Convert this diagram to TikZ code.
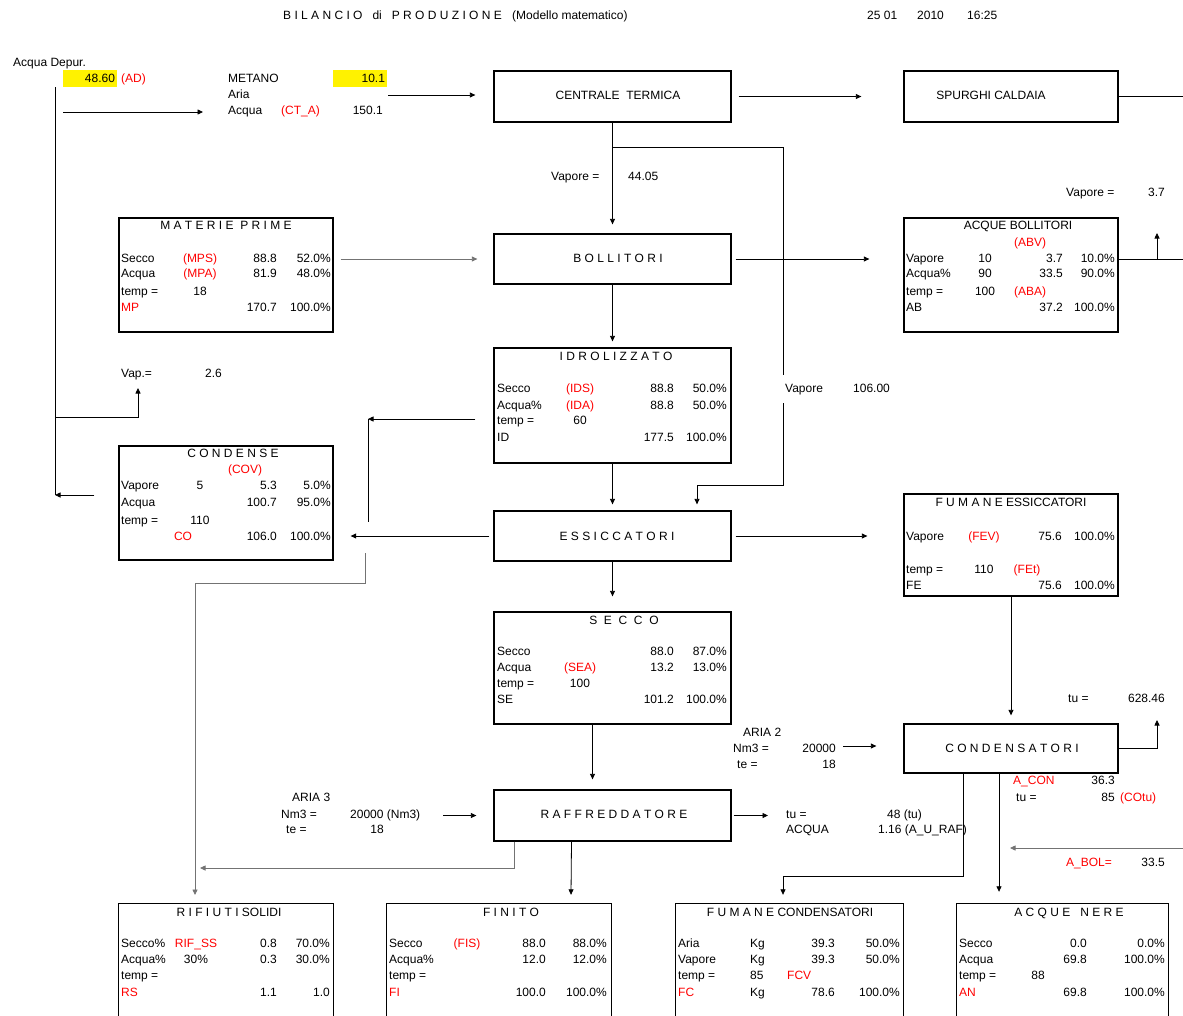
\documentclass[tikz,border=0pt]{standalone}
\usepackage{fontspec}
\setmainfont{Liberation Sans}
\usetikzlibrary{arrows.meta}
\newcommand{\rtxt}[1]{\textcolor{red}{#1}}
\tikzset{
  blk/.style={draw, line width=1.3pt, inner sep=0pt},
  txl/.style={anchor=mid west, inner sep=0pt, yshift=-1.5pt},
  txr/.style={anchor=mid east, inner sep=0pt, yshift=-1.5pt},
  txc/.style={anchor=mid, inner sep=0pt, yshift=-1.5pt},
  ln/.style={line width=0.8pt},
  lng/.style={line width=0.8pt, draw=black!55},
  arr/.style={-{Triangle[length=5.5pt,width=5pt]}},
  hl/.style={fill=yellow, inner xsep=2pt, inner ysep=0pt, minimum height=17pt, text width=50pt, align=right}
}
\begin{document}
\begin{tikzpicture}[x=1pt, y=-1pt, font=\fontsize{12}{14}\selectfont]
\useasboundingbox (0,0) rectangle (1183,1015);
% header
\node[txl] (tit) at (283,15) {B I L A N C I O\ \ \ di\ \ \ P R O D U Z I O N E};
\node[txl] (tit2) at (512,15) {(Modello matematico)};
\node[txl] (dt1) at (867,15) {25 01};
\node[txl] (dt2) at (917,15) {2010};
\node[txl] (dt3) at (967,15) {16:25};

% process blocks
\node[blk, minimum width=237pt, minimum height=51pt] (ct) at (612.5,96.5) {};
\node[txc] (ct-t) at (618,95) {CENTRALE\ \ TERMICA};
\node[blk, minimum width=214pt, minimum height=51pt] (sc) at (1011,96.5) {};
\node[txc] (sc-t) at (991,95) {SPURGHI CALDAIA};
\node[blk, minimum width=237pt, minimum height=50pt] (boll) at (612.5,259) {};
\node[txc] (boll-t) at (618,258) {B O L L I T O R I};
\node[blk, minimum width=237pt, minimum height=50pt] (ess) at (612.5,536) {};
\node[txc] (ess-t) at (617,536) {E S S I C C A T O R I};
\node[blk, minimum width=237pt, minimum height=51pt] (raf) at (612.5,815.5) {};
\node[txc] (raf-t) at (614,814) {R A F F R E D D A T O R E};
\node[blk, minimum width=214pt, minimum height=49pt] (cnd) at (1011,748.5) {};
\node[txc] (cnd-t) at (1012,748) {C O N D E N S A T O R I};

% table blocks
\node[blk, minimum width=214pt, minimum height=114pt] (mp) at (226,275) {};
\node[blk, minimum width=214pt, minimum height=114pt] (ab) at (1011,275) {};
\node[blk, minimum width=237pt, minimum height=115pt] (idr) at (612.5,405.5) {};
\node[blk, minimum width=214pt, minimum height=114pt] (cond) at (226,503) {};
\node[blk, minimum width=214pt, minimum height=102pt] (fe) at (1011,545) {};
\node[blk, minimum width=237pt, minimum height=112pt] (sec) at (612.5,668) {};
\node[inner sep=0pt, minimum width=214pt, minimum height=116pt] (rs) at (226,962) {};
\node[inner sep=0pt, minimum width=224pt, minimum height=116pt] (fin) at (499,962) {};
\node[inner sep=0pt, minimum width=227pt, minimum height=116pt] (fc) at (789.5,962) {};
\node[inner sep=0pt, minimum width=211pt, minimum height=116pt] (an) at (1062.5,962) {};
\foreach \bx in {rs,fin,fc,an}
  \draw[line width=1.3pt] (\bx.south west) |- (\bx.north east) -- (\bx.south east);

% titles
\node[txc] (mp-t) at (226,225) {M A T E R I E\ \ P R I M E};
\node[txc] (ab-t) at (1018,225) {ACQUE BOLLITORI};
\node[txc] (idr-t) at (616,356) {I D R O L I Z Z A T O};
\node[txc] (cond-t) at (233,453) {C O N D E N S E};
\node[txc] (fe-t) at (1011,502) {F U M A N E\ ESSICCATORI};
\node[txc] (sec-t) at (624,620) {S\ \ E\ \ C\ \ C\ \ O};
\node[txc] (rs-t) at (229,912) {R I F I U T I\ SOLIDI};
\node[txc] (fin-t) at (511,912) {F I N I T O};
\node[txc] (fc-t) at (790,912) {F U M A N E\ CONDENSATORI};
\node[txc] (an-t) at (1069,912) {A C Q U E\ \ \ N E R E};

% table rows
\foreach \ry/\rl/\rc/\rv/\rp [count=\i] in {258/Secco/\rtxt{(MPS)}/88.8/52.0\%, 273/Acqua/\rtxt{(MPA)}/81.9/48.0\%, 291/temp =/18//, 307/\rtxt{MP}//170.7/100.0\%}{
  \node[txl] (mp-l\i) at (121,\ry) {\rl};
  \node[txc] (mp-c\i) at (200,\ry) {\rc};
  \node[txr] (mp-v\i) at (277,\ry) {\rv};
  \node[txr] (mp-p\i) at (331,\ry) {\rp};
}
\foreach \ry/\rl/\rc/\rv/\rp [count=\i] in {258/Vapore/10/3.7/10.0\%, 273/Acqua\%/90/33.5/90.0\%, 291/temp =/100//, 307/AB//37.2/100.0\%}{
  \node[txl] (ab-l\i) at (906,\ry) {\rl};
  \node[txc] (ab-c\i) at (985,\ry) {\rc};
  \node[txr] (ab-v\i) at (1063,\ry) {\rv};
  \node[txr] (ab-p\i) at (1115,\ry) {\rp};
}
\node[txc, text=red] (ab-abv) at (1030,242) {(ABV)};
\node[txc, text=red] (ab-aba) at (1030,291) {(ABA)};
\foreach \ry/\rl/\rc/\rv/\rp [count=\i] in {388/Secco/\rtxt{(IDS)}/88.8/50.0\%, 405/Acqua\%/\rtxt{(IDA)}/88.8/50.0\%, 420/temp =/60//, 437/ID//177.5/100.0\%}{
  \node[txl] (idr-l\i) at (497,\ry) {\rl};
  \node[txc] (idr-c\i) at (580,\ry) {\rc};
  \node[txr] (idr-v\i) at (674,\ry) {\rv};
  \node[txr] (idr-p\i) at (727,\ry) {\rp};
}
\foreach \ry/\rl/\rc/\rv/\rp [count=\i] in {485/Vapore/5/5.3/5.0\%, 502/Acqua//100.7/95.0\%, 520/temp =/110//, 536///106.0/100.0\%}{
  \node[txl] (cond-l\i) at (121,\ry) {\rl};
  \node[txc] (cond-c\i) at (200,\ry) {\rc};
  \node[txr] (cond-v\i) at (277,\ry) {\rv};
  \node[txr] (cond-p\i) at (331,\ry) {\rp};
}
\node[txc, text=red] (cond-cov) at (245,469) {(COV)};
\node[txc, text=red] (cond-co) at (183,536) {CO};
\foreach \ry/\rl/\rc/\rv/\rp [count=\i] in {536/Vapore/\rtxt{(FEV)}/75.6/100.0\%, 569/temp =/110//, 585/FE//75.6/100.0\%}{
  \node[txl] (fe-l\i) at (906,\ry) {\rl};
  \node[txc] (fe-c\i) at (984,\ry) {\rc};
  \node[txr] (fe-v\i) at (1062,\ry) {\rv};
  \node[txr] (fe-p\i) at (1115,\ry) {\rp};
}
\node[txc, text=red] (fe-fet) at (1027,569) {(FEt)};
\foreach \ry/\rl/\rc/\rv/\rp [count=\i] in {651/Secco//88.0/87.0\%, 667/Acqua/\rtxt{(SEA)}/13.2/13.0\%, 683/temp =/100//, 699/SE//101.2/100.0\%}{
  \node[txl] (sec-l\i) at (497,\ry) {\rl};
  \node[txc] (sec-c\i) at (580,\ry) {\rc};
  \node[txr] (sec-v\i) at (674,\ry) {\rv};
  \node[txr] (sec-p\i) at (727,\ry) {\rp};
}
\foreach \ry/\rl/\rc/\rv/\rp [count=\i] in {943/Secco\%/\rtxt{RIF\_SS}/0.8/70.0\%, 959/Acqua\%/30\%/0.3/30.0\%, 975/temp =///, 992/\rtxt{RS}//1.1/1.0}{
  \node[txl] (rs-l\i) at (121,\ry) {\rl};
  \node[txc] (rs-c\i) at (196,\ry) {\rc};
  \node[txr] (rs-v\i) at (277,\ry) {\rv};
  \node[txr] (rs-p\i) at (330,\ry) {\rp};
}
\foreach \ry/\rl/\rc/\rv/\rp [count=\i] in {943/Secco/\rtxt{(FIS)}/88.0/88.0\%, 959/Acqua\%//12.0/12.0\%, 975/temp =///, 992/\rtxt{FI}//100.0/100.0\%}{
  \node[txl] (fin-l\i) at (389,\ry) {\rl};
  \node[txc] (fin-c\i) at (467,\ry) {\rc};
  \node[txr] (fin-v\i) at (546,\ry) {\rv};
  \node[txr] (fin-p\i) at (607,\ry) {\rp};
}
\foreach \ry/\rl/\rc/\rv/\rp [count=\i] in {943/Aria/Kg/39.3/50.0\%, 959/Vapore/Kg/39.3/50.0\%, 975/temp =/85//, 992/\rtxt{FC}/Kg/78.6/100.0\%}{
  \node[txl] (fc-l\i) at (678,\ry) {\rl};
  \node[txl] (fc-c\i) at (750,\ry) {\rc};
  \node[txr] (fc-v\i) at (835,\ry) {\rv};
  \node[txr] (fc-p\i) at (900,\ry) {\rp};
}
\node[txl, text=red] (fc-fcv) at (787,975) {FCV};
\foreach \ry/\rl/\rc/\rv/\rp [count=\i] in {943/Secco//0.0/0.0\%, 959/Acqua//69.8/100.0\%, 975/temp =/88//, 992/\rtxt{AN}//69.8/100.0\%}{
  \node[txl] (an-l\i) at (959,\ry) {\rl};
  \node[txc] (an-c\i) at (1038,\ry) {\rc};
  \node[txr] (an-v\i) at (1087,\ry) {\rv};
  \node[txr] (an-p\i) at (1165,\ry) {\rp};
}

% inputs and free labels
\node[txl] (ad-lab) at (13,62) {Acqua Depur.};
\node[hl] (ad) at (90,78.5) {48.60};
\node[txl, text=red] (ad-c) at (121,78) {(AD)};
\node[txl] (ct-m) at (228,78) {METANO};
\node[hl] (met) at (360,78.5) {10.1};
\node[txl] (ct-ar) at (228,94) {Aria};
\node[txl] (ct-aq) at (228,110) {Acqua};
\node[txl, text=red] (ct-c) at (281,110) {(CT\_A)};
\node[txr] (ct-v) at (383,110) {150.1};
\node[txl] (v1) at (551,176) {Vapore =};
\node[txl] (v1-v) at (628,176) {44.05};
\node[txl] (v2) at (1066,192) {Vapore =};
\node[txr] (v2-v) at (1165,192) {3.7};
\node[txl] (vap) at (121,373) {Vap.=};
\node[txl] (vap-v) at (205,373) {2.6};
\node[txl] (tu1) at (1068,698) {tu =};
\node[txr] (tu1-v) at (1165,698) {628.46};
\node[txl] (a2) at (743,732) {ARIA 2};
\node[txl] (a2-n) at (733,748) {Nm3 =};
\node[txr] (a2-nv) at (836,748) {20000};
\node[txl] (a2-t) at (737,764) {te =};
\node[txr] (a2-tv) at (836,764) {18};
\node[txl, text=red] (acon) at (1013,780) {A\_CON};
\node[txr] (acon-v) at (1115,780) {36.3};
\node[txl] (cotu) at (1016,797) {tu =};
\node[txr] (cotu-v) at (1115,797) {85};
\node[txl, text=red] (cotu-c) at (1120,797) {(COtu)};
\node[txl] (a3) at (292,797) {ARIA 3};
\node[txl] (a3-n) at (281,814) {Nm3 =};
\node[txl] (a3-nv) at (350,814) {20000 (Nm3)};
\node[txl] (a3-t) at (286,829) {te =};
\node[txr] (a3-tv) at (384,829) {18};
\node[txl] (tu2) at (786,814) {tu =};
\node[txl] (tu2-v) at (887,814) {48 (tu)};
\node[txl] (aq2) at (786,829) {ACQUA};
\node[txl] (aq2-v) at (878,829) {1.16 (A\_U\_RAF)};
\node[txl, text=red] (abol) at (1066,862) {A\_BOL=};
\node[txr] (abol-v) at (1165,862) {33.5};

% free ends
\coordinate (adtop) at (55,87);
\coordinate (adbot) at (55,495);
\coordinate (vapup) at (138,388);
\coordinate (ctin0) at (63,112);
\coordinate (ctin1) at (203,112);
\coordinate (ctin2) at (388,95);
\coordinate (scout) at (1183,96.5);
\coordinate (about) at (1183,259);
\coordinate (abup) at (1157,233);
\coordinate (vsplit) at (612.5,147);
\coordinate (vdown) at (783,485);
\coordinate (idrl) at (368,419);
\coordinate (rsin) at (195,895);
\coordinate (a3out) at (443,815.5);
\coordinate (rafout) at (768,815.5);
\coordinate (a2out) at (843,746);
\coordinate (cndup) at (1157,720);
\coordinate (bolin) at (1183,848);

% connectors
\draw[ln] (adtop) -- (adbot);
\draw[ln, arr] ([xshift=-24pt]cond.west |- adbot) -- (adbot);
\draw[ln, arr] (adtop |- 0,417) -| (vapup);
\draw[ln, arr] (ctin0) -- (ctin1);
\draw[ln, arr] (ctin2) -- ([xshift=-18pt]ct.west |- ctin2);
\draw[ln, arr] ([xshift=7pt]ct.east) -- ([xshift=-42pt]sc.west);
\draw[ln] (sc.east) -- (scout);
\draw[ln, arr] (ct.south) -- ([yshift=9pt]boll.north);
\draw[ln, arr] (vsplit) -| (vdown) -| ([xshift=84.5pt, yshift=6pt]ess.north);
\draw[lng, arr] (mp.east |- boll.west) ++(7pt,0) -- ([xshift=-16pt]boll.west);
\draw[ln, arr] ([xshift=4pt]boll.east) -- ([xshift=-34pt]ab.west |- boll.east);
\draw[ln] (ab.east |- about) -- (about);
\draw[ln, arr] (abup |- about) -- (abup);
\draw[ln, arr] (boll.south) -- ([yshift=6pt]idr.north);
\draw[ln, arr] ([xshift=-18pt]idr.west |- idrl) -- (idrl);
\draw[ln] (idrl) -- (368,522);
\draw[lng, arr] (365,553) |- (195,583) -- (rsin);
\draw[ln, arr] ([xshift=-4pt]ess.west) -- ([xshift=17pt]cond.east |- ess.west);
\draw[ln, arr] (idr.south) -- ([yshift=6pt]ess.north);
\draw[ln, arr] ([xshift=4pt]ess.east) -- ([xshift=-36pt]fe.west |- ess.east);
\draw[ln, arr] (ess.south) -- ([yshift=15pt]sec.north);
\draw[ln, arr] ([xshift=-20pt]sec.south) -- ([xshift=-20pt, yshift=10pt]raf.north);
\draw[ln, arr] (a3out) -- ([xshift=-17pt]raf.west);
\draw[ln, arr] ([xshift=2pt]raf.east) -- (rafout);
\draw[lng, arr] ([xshift=-98pt]raf.south) |- (200,868);
\draw[ln, arr] ([xshift=-41pt]raf.south) -- ([xshift=72pt, yshift=9pt]fin.north);
\draw[ln, arr] (fe.south) -- ([yshift=8pt]cnd.north);
\draw[ln, arr] (a2out) -- ([xshift=-27pt]cnd.west |- a2out);
\draw[ln, arr] (cnd.east) -| (cndup);
\draw[ln, arr] ([xshift=-48pt]cnd.south) |- (783,876) -- ([xshift=-6.5pt, yshift=9pt]fc.north);
\draw[ln, arr] ([xshift=-12pt]cnd.south) -- ([xshift=-63.5pt, yshift=12pt]an.north);
\draw[lng, arr] (bolin) -- (1010,848);

% label over the steam line
\node[txl, fill=white, inner xsep=5pt, minimum height=28pt] (v3) at (780,388) {Vapore};
\node[txl] (v3-v) at (853,388) {106.00};
\end{tikzpicture}
\end{document}
